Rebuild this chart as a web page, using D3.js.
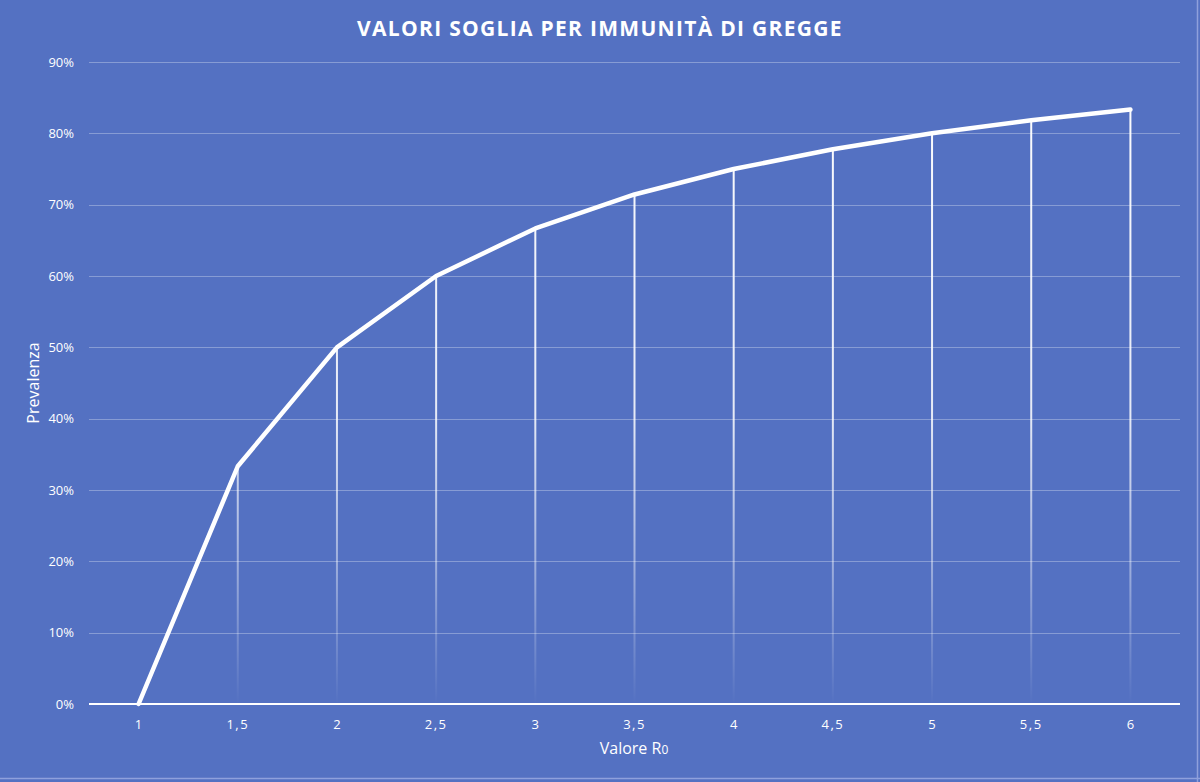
<!DOCTYPE html>
<html><head><meta charset="utf-8">
<script src="https://cdn.jsdelivr.net/npm/d3@7"></script>
<style>
html,body{margin:0;padding:0;background:#5471c2;}
svg{display:block;}
</style></head>
<body>
<script>
const categories = ["1","1,5","2","2,5","3","3,5","4","4,5","5","5,5","6"];
const prevalenza = [0, 0.3333, 0.5, 0.6, 0.6667, 0.7143, 0.75, 0.7778, 0.8, 0.8182, 0.8333];
const yTicks = [0,0.1,0.2,0.3,0.4,0.5,0.6,0.7,0.8,0.9];
const title = "VALORI SOGLIA PER IMMUNITÀ DI GREGGE";

const W = 1200, H = 782;
const svg = d3.select("body").append("svg").attr("width", W).attr("height", H);
svg.append("rect").attr("width", W).attr("height", H).attr("fill", "#5471c2");
// faint right/bottom border
svg.append("line").attr("x1",1197.5).attr("x2",1197.5).attr("y1",0).attr("y2",H).attr("stroke","#8ea0dc").attr("stroke-width",1.5);
svg.append("line").attr("x1",0).attr("x2",W).attr("y1",778.5).attr("y2",778.5).attr("stroke","#8ea0dc").attr("stroke-width",1.5);

const x = d3.scalePoint().domain(categories).range([89,1180]).padding(0.5);
const y = d3.scaleLinear().domain([0,0.9]).range([704,62]);

const font = "'Open Sans', 'Noto Sans', sans-serif";

// gridlines
svg.append("g").selectAll("line").data(yTicks.filter(d=>d>0)).join("line")
  .attr("x1",89).attr("x2",1180)
  .attr("y1",d=>Math.round(y(d))+0.5).attr("y2",d=>Math.round(y(d))+0.5)
  .attr("stroke","#ffffff").attr("stroke-opacity",0.3).attr("stroke-width",1);

// y tick labels
svg.append("g").selectAll("text").data(yTicks).join("text")
  .attr("x",74).attr("y",d=>y(d)).attr("dy","0.35em")
  .attr("text-anchor","end").attr("fill","#fff")
  .attr("font-family",font).attr("font-size",13)
  .text(d=>Math.round(d*100)+"%");

// gradient for drop lines
const defs = svg.append("defs");
const grad = defs.append("linearGradient").attr("id","fade")
  .attr("gradientUnits","userSpaceOnUse").attr("x1",0).attr("x2",0)
  .attr("y1",y(0.9)).attr("y2",y(0));
grad.append("stop").attr("offset","0%").attr("stop-color","#fff").attr("stop-opacity",1);
grad.append("stop").attr("offset","55%").attr("stop-color","#fff").attr("stop-opacity",0.85);
grad.append("stop").attr("offset","80%").attr("stop-color","#fff").attr("stop-opacity",0.4);
grad.append("stop").attr("offset","100%").attr("stop-color","#fff").attr("stop-opacity",0);

const data = categories.map((c,i)=>({c, v: prevalenza[i]}));

// drop lines
svg.append("g").selectAll("rect").data(data.filter(d=>d.v>0)).join("rect")
  .attr("x",d=>x(d.c)-1).attr("width",2)
  .attr("y",d=>y(d.v)).attr("height",d=>y(0)-y(d.v))
  .attr("fill","url(#fade)");

// x axis line
svg.append("line").attr("x1",89).attr("x2",1180).attr("y1",704).attr("y2",704)
  .attr("stroke","#fff").attr("stroke-width",2);

// x tick labels
svg.append("g").selectAll("text").data(categories).join("text")
  .attr("x",d=>x(d)).attr("y",729)
  .attr("text-anchor","middle").attr("fill","#fff")
  .attr("font-family",font).attr("font-size",13)
  .attr("letter-spacing",d=>d.length>1?"1.5px":"0px")
  .text(d=>d);

// main line
svg.append("path").datum(data)
  .attr("d", d3.line().x(d=>x(d.c)).y(d=>y(d.v)))
  .attr("fill","none").attr("stroke","#fff").attr("stroke-width",4.5)
  .attr("stroke-linejoin","round").attr("stroke-linecap","round");

// title
svg.append("text").attr("x",600).attr("y",36).attr("text-anchor","middle")
  .attr("fill","#fff").attr("font-family",font).attr("font-weight","bold")
  .attr("font-size",21).attr("letter-spacing","1.3px").text(title);

// axis titles
const xt = svg.append("text").attr("x",634).attr("y",754).attr("text-anchor","middle")
  .attr("fill","#fff").attr("font-family",font).attr("font-size",16);
xt.append("tspan").text("Valore R");
xt.append("tspan").attr("font-size",12).text("0");

svg.append("text").attr("transform","translate(39,383) rotate(-90)")
  .attr("text-anchor","middle").attr("fill","#fff")
  .attr("font-family",font).attr("font-size",16).text("Prevalenza");
</script>
</body></html>
